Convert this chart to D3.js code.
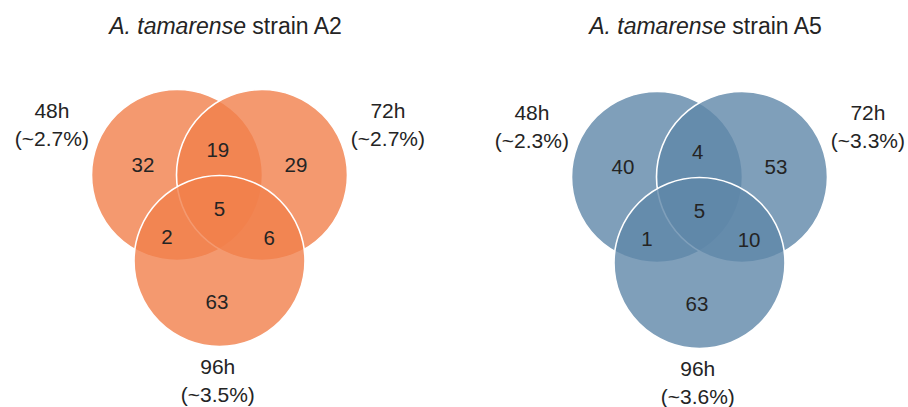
<!DOCTYPE html>
<html>
<head>
<meta charset="utf-8">
<script src="https://cdn.jsdelivr.net/npm/d3@7"></script>
<style>
  html, body { margin: 0; padding: 0; background: #fff; }
  svg { display: block; }
  text { font-family: "Liberation Sans", Arial, sans-serif; fill: #242424; }
</style>
</head>
<body>
<svg id="chart" width="908" height="407"></svg>
<script>
// ---- data ----
const strains = ["A2", "A5"];
const setNames = ["48h", "72h", "96h"];
const percentA2 = ["~2.7%", "~2.7%", "~3.5%"];
const percentA5 = ["~2.3%", "~3.3%", "~3.6%"];
// region order: only48, 48&72, only72, all, 48&96, 72&96, only96
const countsA2 = [32, 19, 29, 5, 2, 6, 63];
const countsA5 = [40, 4, 53, 5, 1, 10, 63];
const colors = ["#f1804b", "#5f87a9"];

// ---- layout (unit = circle radius, origin = midpoint of top two centres) ----
const circleLayout = [[-0.497, 0], [0.497, 0], [0, 1.005]];
const regionLayout = [[-0.895, -0.035], [-0.02, -0.21], [0.895, -0.035], [0, 0.48],
                      [-0.614, 0.807], [0.58, 0.82], [-0.03, 1.567]];
const labelLayout = [[-1.96, -0.667], [1.97, -0.667], [-0.02, 2.325]];

const panels = [
  { strain: strains[0], pct: percentA2, counts: countsA2, color: colors[0], cx: 219.5, cy: 175 },
  { strain: strains[1], pct: percentA5, counts: countsA5, color: colors[1], cx: 699.5, cy: 177 }
];
const R = 85.5;

const svg = d3.select("#chart");

panels.forEach(p => {
  const x = d3.scaleLinear().domain([-1, 1]).range([p.cx - R, p.cx + R]);
  const y = d3.scaleLinear().domain([-1, 1]).range([p.cy - R, p.cy + R]);
  const g = svg.append("g");

  // title
  const t = g.append("text")
    .attr("x", p.cx + 6).attr("y", 34)
    .attr("text-anchor", "middle")
    .style("font-size", "23px");
  t.append("tspan").style("font-style", "italic").text("A. tamarense");
  t.append("tspan").text(" strain " + p.strain);

  // circles
  g.selectAll("circle").data(circleLayout).join("circle")
    .attr("cx", d => x(d[0]))
    .attr("cy", d => y(d[1]))
    .attr("r", x(1) - x(0))
    .attr("fill", p.color)
    .attr("fill-opacity", 0.8)
    .attr("stroke", "#fff")
    .attr("stroke-width", 1.6);

  // region counts
  g.selectAll("text.count").data(p.counts).join("text")
    .attr("class", "count")
    .attr("x", (d, i) => x(regionLayout[i][0]))
    .attr("y", (d, i) => y(regionLayout[i][1]))
    .attr("text-anchor", "middle")
    .style("font-size", "20.5px")
    .text(d => d);

  // set labels
  setNames.forEach((name, i) => {
    const lt = g.append("text")
      .attr("x", x(labelLayout[i][0]))
      .attr("y", y(labelLayout[i][1]))
      .attr("text-anchor", "middle")
      .style("font-size", "21px");
    lt.append("tspan").attr("x", x(labelLayout[i][0])).text(name);
    lt.append("tspan").attr("x", x(labelLayout[i][0])).attr("dy", 28).text("(" + p.pct[i] + ")");
  });
});
</script>
</body>
</html>
